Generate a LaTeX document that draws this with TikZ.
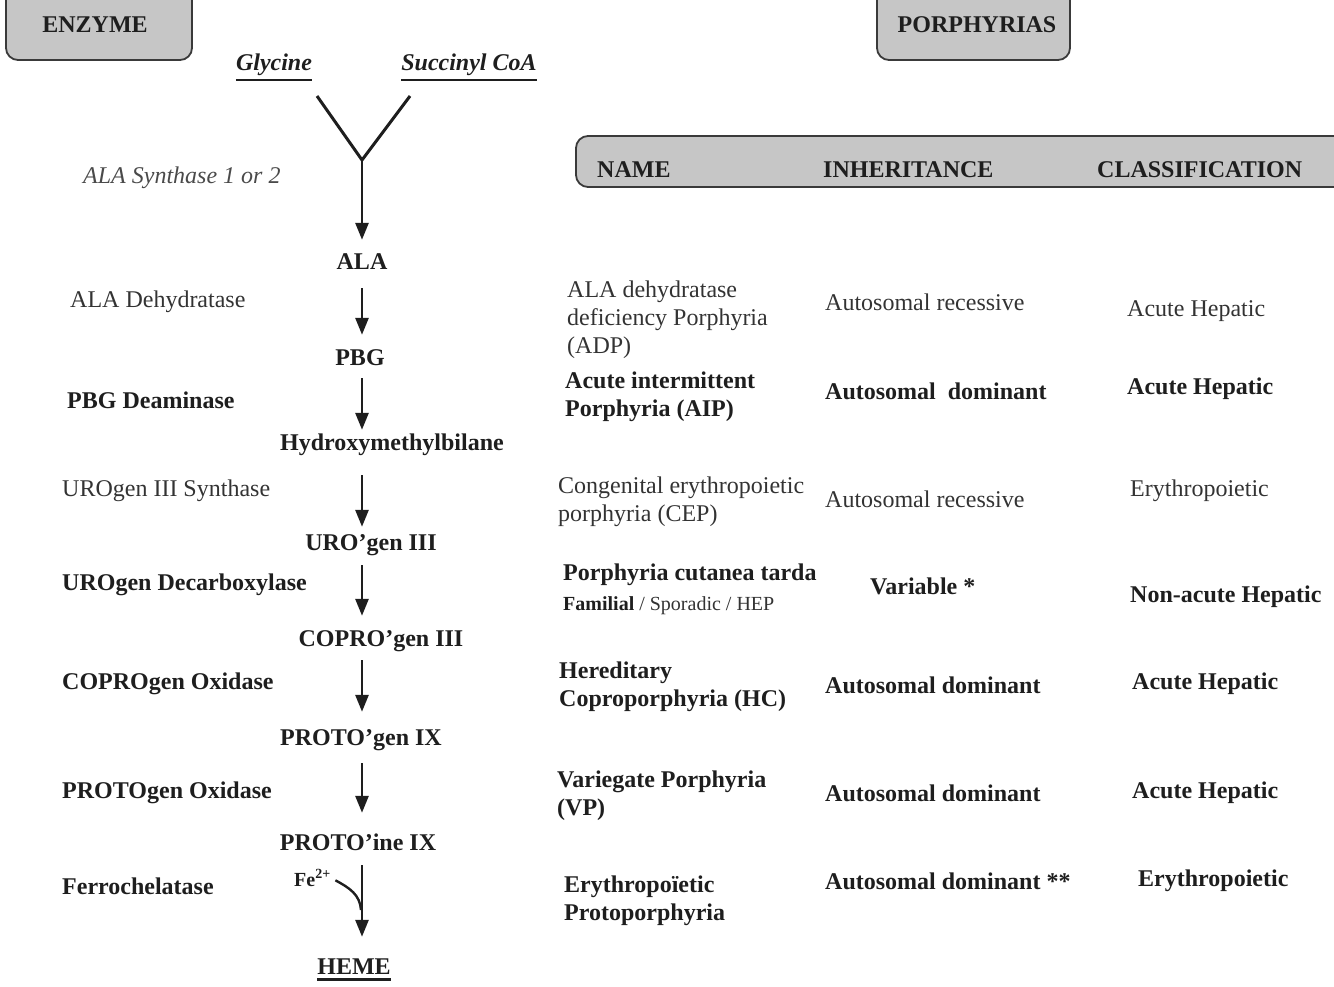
\documentclass[tikz,border=0pt]{standalone}
\usepackage{fontspec}
\setmainfont{Liberation Serif}
\usetikzlibrary{arrows.meta}
\definecolor{boxgray}{HTML}{C6C6C6}
\definecolor{boxline}{HTML}{3A3A3A}
\definecolor{txtdark}{HTML}{1E1E1E}
\definecolor{txtreg}{HTML}{333333}
\definecolor{txtital}{HTML}{4A4A4A}
\begin{document}
\begin{tikzpicture}[x=1pt,y=-1pt,
  hbox/.style={draw=boxline, fill=boxgray, line width=1.8pt, rounded corners=12pt},
  htxt/.style={font=\fontsize{24}{28}\selectfont\bfseries, text=txtdark, inner sep=0pt},
  rt/.style={anchor=west, inner sep=0pt, align=left, font=\fontsize{24}{28}\selectfont, text=txtreg},
  bt/.style={anchor=west, inner sep=0pt, align=left, font=\fontsize{24}{28}\selectfont\bfseries, text=txtdark},
  prod/.style={anchor=center, inner sep=0pt, text height=16pt, text depth=0pt, font=\fontsize{24}{28}\selectfont\bfseries, text=txtdark},
  arr/.style={line width=2.8pt, draw=txtdark, -{Triangle[width=13pt,length=17pt]}},
  ulink/.style={line width=2.6pt, draw=txtdark},
]
\useasboundingbox (0,0) rectangle (1334,987);
\clip (0,0) rectangle (1334,987);

% header boxes
\draw[hbox] (6,-12) rectangle (192,60);
\node[htxt] (enzyme) at (95,25) {ENZYME};
\draw[hbox] (877,-12) rectangle (1070,60);
\node[htxt] (porph) at (977,25) {PORPHYRIAS};
\draw[hbox] (576,136) rectangle (1360,187);
\node[htxt, anchor=west] (hname) at (597,170) {NAME};
\node[htxt, anchor=west] (hinh) at (823,170) {INHERITANCE};
\node[htxt, anchor=west] (hclass) at (1097,170) {CLASSIFICATION};

% substrates
\node[font=\fontsize{24}{28}\selectfont\bfseries\itshape, text=txtdark, inner sep=0pt] (gly) at (274,65) {Glycine};
\node[font=\fontsize{24}{28}\selectfont\bfseries\itshape, text=txtdark, inner sep=0pt] (succ) at (469,65) {Succinyl CoA};
\draw[ulink] ([yshift=-4pt]gly.south west) -- ([yshift=-4pt]gly.south east);
\draw[ulink] ([yshift=-4pt]succ.south west) -- ([yshift=-4pt]succ.south east);

\coordinate (yl) at (317,96);
\coordinate (yr) at (410,96);
\coordinate (yj) at (362,160);
\coordinate (ax) at (362,0);
\draw[line width=3pt, draw=txtdark, line join=miter] (yl) -- (yj) -- (yr);

\node[anchor=west, inner sep=0pt, font=\fontsize{24}{28}\selectfont\itshape, text=txtital] (alas) at (83,178) {ALA Synthase 1 or 2};

% products
\node[prod] (ala) at (362,262) {ALA};
\node[prod] (pbg) at (360,357) {PBG};
\node[prod] (hmb) at (392,442) {Hydroxymethylbilane};
\node[prod] (uro) at (371,542) {URO'gen III};
\node[prod] (copro) at (381,638) {COPRO'gen III};
\node[prod] (protog) at (361,737) {PROTO'gen IX};
\node[prod] (protoi) at (358,842) {PROTO'ine IX};
\node[prod] (heme) at (354,966) {HEME};
\draw[ulink] ([yshift=-5pt]heme.south west) -- ([yshift=-5pt]heme.south east);

% arrows
\draw[arr, shorten >=14pt] (yj) -- (ala.north -| ax);
\draw[arr, shorten <=18pt, shorten >=14pt] (ala.south -| ax) -- (pbg.north -| ax);
\draw[arr, shorten <=13pt, shorten >=4pt] (pbg.south -| ax) -- (hmb.north -| ax);
\draw[arr, shorten <=25pt, shorten >=7pt] (hmb.south -| ax) -- (uro.north -| ax);
\draw[arr, shorten <=15pt, shorten >=14pt] (uro.south -| ax) -- (copro.north -| ax);
\draw[arr, shorten <=14pt, shorten >=17pt] (copro.south -| ax) -- (protog.north -| ax);
\draw[arr, shorten <=18pt, shorten >=21pt] (protog.south -| ax) -- (protoi.north -| ax);
\draw[arr, shorten <=15pt, shorten >=21pt] (protoi.south -| ax) -- (heme.north -| ax);

% Fe2+
\node[anchor=west, inner sep=0pt, font=\fontsize{20}{24}\selectfont\bfseries, text=txtdark] (fe) at (294,878) {Fe\textsuperscript{2+}};
\coordinate (fj) at (361,910);
\draw[line width=2.4pt, draw=txtdark, shorten <=5pt] (fe.east) .. controls (350,888) and (360,895) .. (fj);

% enzymes
\node[rt] (e1) at (70,302) {ALA Dehydratase};
\node[bt] (e2) at (67,400) {PBG Deaminase};
\node[rt] (e3) at (62,491) {UROgen III Synthase};
\node[bt] (e4) at (62,585) {UROgen Decarboxylase};
\node[bt] (e5) at (62,684) {COPROgen Oxidase};
\node[bt] (e6) at (62,793) {PROTOgen Oxidase};
\node[bt] (e7) at (62,886) {Ferrochelatase};

% porphyria names
\node[rt] (n1) at (567,320) {ALA dehydratase\\deficiency Porphyria\\(ADP)};
\node[bt] (n2) at (565,397) {Acute intermittent\\Porphyria (AIP)};
\node[rt] (n3) at (558,502) {Congenital erythropoietic\\porphyria (CEP)};
\node[bt] (n4) at (563,575) {Porphyria cutanea tarda};
\node[anchor=west, inner sep=0pt, font=\fontsize{20}{24}\selectfont, text=txtreg] (n4b) at (563,606) {\textbf{\color{txtdark}Familial} / Sporadic / HEP};
\node[bt] (n5) at (559,687) {Hereditary\\Coproporphyria (HC)};
\node[bt] (n6) at (557,796) {Variegate Porphyria\\(VP)};
\node[bt] (n7) at (564,901) {Erythropo\"{\i}etic\\Protoporphyria};

% inheritance
\node[rt] (i1) at (825,302) {Autosomal recessive};
\node[bt] (i2) at (825,391) {Autosomal\ \ dominant};
\node[rt] (i3) at (825,499) {Autosomal recessive};
\node[bt] (i4) at (870,586) {Variable *};
\node[bt] (i5) at (825,685) {Autosomal dominant};
\node[bt] (i6) at (825,793) {Autosomal dominant};
\node[bt] (i7) at (825,881) {Autosomal dominant **};

% classification
\node[rt] (c1) at (1127,311) {Acute Hepatic};
\node[bt] (c2) at (1127,389) {Acute Hepatic};
\node[rt] (c3) at (1130,491) {Erythropoietic};
\node[bt] (c4) at (1130,597) {Non-acute Hepatic};
\node[bt] (c5) at (1132,684) {Acute Hepatic};
\node[bt] (c6) at (1132,793) {Acute Hepatic};
\node[bt] (c7) at (1138,881) {Erythropoietic};
\end{tikzpicture}
\end{document}
